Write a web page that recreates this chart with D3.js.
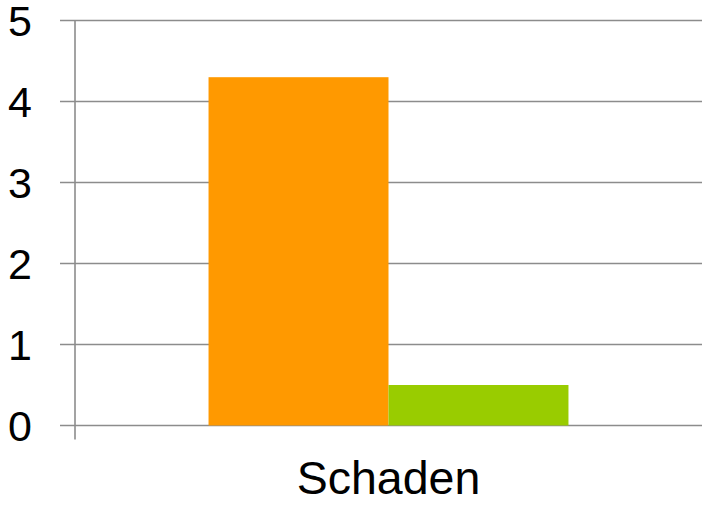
<!DOCTYPE html>
<html>
<head>
<meta charset="utf-8">
<script src="https://cdn.jsdelivr.net/npm/d3@7"></script>
<style>
  html, body { margin: 0; padding: 0; background: #fff; }
  svg { display: block; font-family: "Liberation Sans", Arial, sans-serif; }
</style>
</head>
<body>
<svg id="chart" width="702" height="505"></svg>
<script>
// ====== Data ======
const categories = ["Schaden"];
const seriesNames = ["Reihe 1", "Reihe 2"];
const seriesValues = [4.3, 0.5];
const seriesColors = ["#ff9900", "#99cc00"];
const yTicks = [0, 1, 2, 3, 4, 5];

// ====== Layout ======
const width = 702, height = 505;
const margin = { top: 20.5, right: 0, bottom: 79.5, left: 75 };
const innerW = width - margin.left - margin.right;
const innerH = height - margin.top - margin.bottom;

const svg = d3.select("#chart");
const g = svg.append("g").attr("transform", `translate(${margin.left},${margin.top})`);

const y = d3.scaleLinear().domain([0, 5]).range([innerH, 0]);
const x0 = d3.scaleBand().domain(categories).range([0, innerW]).paddingInner(0).paddingOuter(0.371);
const x1 = d3.scaleBand().domain(seriesNames).range([0, x0.bandwidth()]).padding(0);

// Gitterlinien + Tick-Striche (ragen links über die Achse)
g.append("g")
  .selectAll("line")
  .data(yTicks)
  .join("line")
  .attr("x1", -15)
  .attr("x2", innerW)
  .attr("y1", d => y(d))
  .attr("y2", d => y(d))
  .attr("stroke", "#8c8c8c")
  .attr("stroke-width", 1.6);

// Balken
const bars = g.append("g")
  .selectAll("g")
  .data(categories)
  .join("g")
  .attr("transform", d => `translate(${x0(d)},0)`);

bars.selectAll("rect")
  .data(() => seriesNames.map((s, i) => ({ s, v: seriesValues[i], c: seriesColors[i] })))
  .join("rect")
  .attr("x", d => x1(d.s))
  .attr("width", x1.bandwidth())
  .attr("y", d => y(d.v))
  .attr("height", d => innerH - y(d.v))
  .attr("fill", d => d.c);

// Y-Achse (Linie)
g.append("line")
  .attr("x1", 0).attr("x2", 0)
  .attr("y1", y(5)).attr("y2", innerH + 14)
  .attr("stroke", "#8c8c8c")
  .attr("stroke-width", 1.6);

// Y-Beschriftung
g.append("g")
  .selectAll("text")
  .data(yTicks)
  .join("text")
  .attr("x", -43)
  .attr("y", d => y(d))
  .attr("dy", "0.36em")
  .attr("text-anchor", "end")
  .attr("font-size", 43)
  .attr("fill", "#000")
  .text(d => d);

// X-Beschriftung
g.append("g")
  .selectAll("text")
  .data(categories)
  .join("text")
  .attr("x", d => x0(d) + x0.bandwidth() / 2)
  .attr("y", innerH + 68.5)
  .attr("text-anchor", "middle")
  .attr("font-size", 46.5)
  .attr("fill", "#000")
  .text(d => d);
</script>
</body>
</html>
